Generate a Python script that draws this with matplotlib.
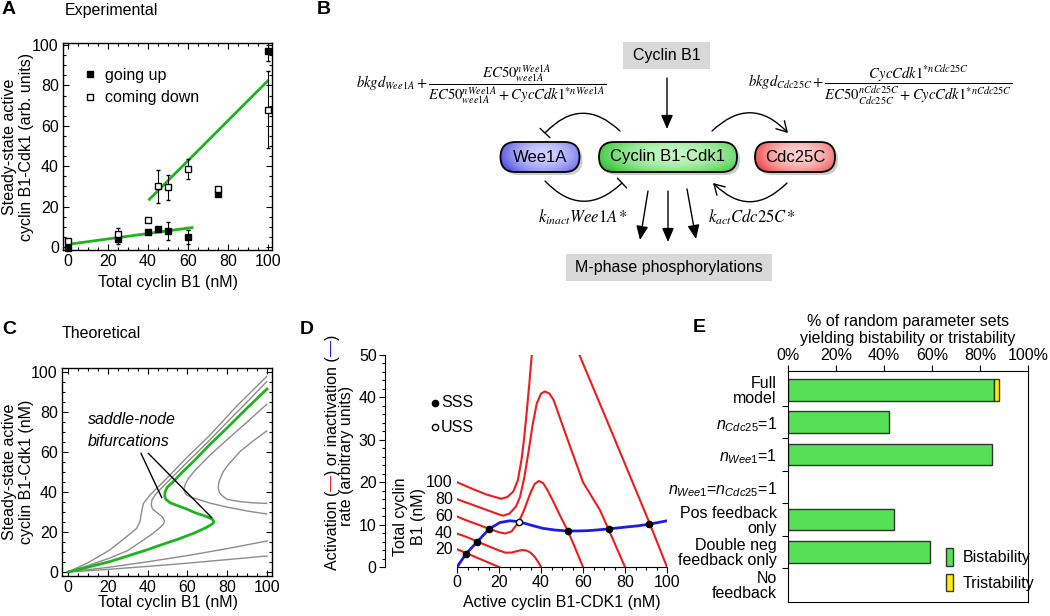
import numpy as np
import matplotlib
matplotlib.use('Agg')
from matplotlib import pyplot as plt
from matplotlib.patches import FancyBboxPatch, FancyArrowPatch, Rectangle
from matplotlib.ticker import MultipleLocator, FuncFormatter

plt.rcParams['font.family'] = 'Liberation Sans'
plt.rcParams['font.size'] = 11
plt.rcParams['mathtext.fontset'] = 'custom'
plt.rcParams['mathtext.it'] = 'Liberation Sans:italic'
plt.rcParams['mathtext.rm'] = 'Liberation Sans'

# ---- Panel A: experimental steady states ----
up_x = [0, 25, 40, 45, 50, 60, 75, 100]
up_y = [-0.5, 4, 7.4, 8.9, 8, 5, 26, 97]
up_err = [0, 2.5, 0, 0, 4.5, 3.5, 0, 4.8]
down_x = [0, 25, 40, 45, 50, 60, 75, 100]
down_y = [3, 6.4, 13.4, 30, 29.5, 38.6, 28.7, 68]
down_err = [0, 3, 0, 8, 6, 5, 0, 19]
fit_lo_x = [0, 62]
fit_lo_y = [1.3, 9.6]
fit_hi_x = [40.7, 99.8]
fit_hi_y = [23.6, 82.2]

# ---- Panel C: theoretical bifurcation curves ----
green_x = [0, 10, 21, 30, 40, 46, 55, 63, 69, 72.2, 73.4, 72.5, 69.7, 64, 59.6, 55, 51.3,
           49.2, 48.6, 48.8, 49.8, 52.9, 57, 63, 71, 79.7, 90, 100]
green_y = [0, 2.4, 5.2, 8, 11.2, 13.3, 16.3, 19.3, 22, 23.8, 25, 26.4, 27.7, 29.6, 31.5, 33.2,
           34.6, 36.3, 38, 40, 42.3, 45.2, 49.5, 55.2, 63.5, 71.8, 82, 91.5]
gray_curves = [
    ([0, 10, 21, 29.5, 34.5, 36.2, 37, 37.9, 41.2, 49.6, 60, 71.4, 85, 99.8],
     [0, 4.6, 11, 17.7, 21.8, 25.2, 30.2, 34.3, 38.5, 46.8, 57.5, 68.5, 83.2, 97.7]),
    ([0, 10, 21, 30, 37.9, 43, 46.2, 48, 48.5, 47.5, 45, 42.5, 41.8, 42.2, 44, 46.5, 52, 60,
      70, 80, 90, 99.8],
     [0, 3.2, 7, 10.7, 16, 19.5, 22.2, 24, 25.5, 27.5, 29.5, 31.5, 33.5, 36, 38.8, 41.5, 47,
      55, 64.7, 75, 85, 95.2]),
    ([99.8, 90, 79.7, 72, 66.3, 62, 59.6, 58.5, 58.3, 59, 60.5, 64, 71.4, 80, 90, 99.8],
     [29, 30.5, 32.5, 34.3, 36, 37.3, 38.5, 40, 41.8, 44, 46.8, 51, 58.5, 66.2, 75, 83.8]),
    ([99.8, 93, 86.4, 80, 78, 76.2, 75.5, 75.8, 77, 78, 80, 86.4, 93, 99.8],
     [34.3, 34.6, 35.2, 36.3, 37.7, 39.5, 41.8, 45, 48, 50.2, 53, 60.2, 65.5, 70.5]),
    ([0, 20, 40, 60, 80, 100], [0, 2.3, 5.1, 8.2, 11.7, 15.5]),
    ([0, 20, 40, 60, 80, 100], [0, 1.3, 2.8, 4.4, 6.2, 8]),
]

# ---- Panel D: rate balance ----
total_labels = ['20', '40', '60', '80', '100']
red_curves = [
    ([0, 5, 10, 15, 20], [4.2, 3.15, 2.1, 1.05, 0]),
    ([0, 5, 9.7, 15, 20, 23, 26, 29, 31, 33, 35, 37, 38.5, 40],
     [7.9, 7.0, 6.0, 4.9, 3.9, 3.4, 3.4, 3.8, 4.0, 3.9, 3.4, 2.4, 1.3, 0]),
    ([0, 5, 10, 15.4, 20, 23, 26, 29.5, 32, 35, 37, 39, 41, 43, 46, 49, 52.7, 56, 60],
     [11.9, 10.9, 10, 9.0, 8.2, 7.9, 8.4, 10.7, 13.5, 17.5, 19.6, 20.3, 19.8, 18.2, 15.3,
      12.2, 8.6, 4.8, 0]),
    ([0, 5, 10, 15, 20, 22, 25, 28, 30, 32, 34, 36, 38, 40, 41.9, 44, 46, 52.2, 60, 68.1,
      74, 80],
     [16, 15.1, 14.2, 13.3, 12.4, 12.1, 12.6, 14.2, 16.5, 21, 27, 33.5, 38.6, 40.9, 41.4,
      40.9, 39.4, 30.7, 20, 13.4, 6.8, 0]),
    ([0, 7, 14, 21, 24, 26.8, 29, 30.8, 32, 33.2, 34.4, 35.6, np.nan, 58.3, 70, 80, 91.9, 100],
     [20, 18.5, 17.1, 16.1, 16.5, 17.8, 20.5, 25.6, 30.5, 36.6, 43, 50, np.nan, 50, 36.2,
      24.3, 10.1, 0]),
]
blue_x = [0, 4.3, 9.7, 15.4, 20.5, 25.2, 29.5, 35, 41.1, 47, 52.7, 58, 63.3, 68, 72.5, 80,
          86, 91.6, 100]
blue_y = [0, 3.1, 6.0, 9.0, 10.5, 10.9, 10.7, 9.9, 9.1, 8.7, 8.5, 8.5, 8.6, 8.8, 9.0, 9.4,
          9.7, 10.1, 10.9]
sss_x = [4.3, 9.7, 15.4, 52.7, 72.5, 91.6]
sss_y = [3.1, 6.0, 9.0, 8.5, 9.0, 10.1]
uss_x = [29.5]
uss_y = [10.7]

# ---- Panel E: random parameter screen ----
models = ['Full\nmodel', r'$n_{Cdc25}$=1', r'$n_{Wee1}$=1', r'$n_{Wee1}$=$n_{Cdc25}$=1',
          'Pos feedback\nonly', 'Double neg\nfeedback only', 'No\nfeedback']
bistable = [86, 42, 85, 0, 44, 59, 0]
tristable = [2, 0, 0, 0, 0, 0, 0]

W, H = 1050, 616
fig = plt.figure(figsize=(W / 100, H / 100), dpi=100)


def px_axes(x0, y0, x1, y1):
    return fig.add_axes([x0 / W, 1 - y1 / H, (x1 - x0) / W, (y1 - y0) / H])


def frame_style(ax):
    ax.xaxis.set_major_locator(MultipleLocator(20))
    ax.yaxis.set_major_locator(MultipleLocator(20))
    ax.xaxis.set_minor_locator(MultipleLocator(5))
    ax.yaxis.set_minor_locator(MultipleLocator(5))
    ax.tick_params(which='both', direction='in', top=True, right=True, width=0.8,
                   labelsize=11.5, pad=3)
    ax.tick_params(which='major', length=4)
    ax.tick_params(which='minor', length=2)
    for s in ax.spines.values():
        s.set_linewidth(1)


GREEN = '#1db41d'

# panel A
axA = px_axes(63, 43, 272, 250)
axA.set_xlim(-2.5, 102)
axA.set_ylim(-1.5, 101)
frame_style(axA)
axA.plot(fit_lo_x, fit_lo_y, color=GREEN, lw=2)
axA.plot(fit_hi_x, fit_hi_y, color=GREEN, lw=2)
axA.errorbar(up_x, up_y, yerr=up_err, fmt='none', ecolor='k', elinewidth=0.8, capsize=1.5)
axA.errorbar(down_x, down_y, yerr=down_err, fmt='none', ecolor='k', elinewidth=0.8, capsize=1.5)
axA.plot(up_x, up_y, 's', ms=5, mfc='k', mec='k', clip_on=False, label='going up')
axA.plot(down_x, down_y, 's', ms=5, mfc='white', mec='k', mew=1, clip_on=False,
         label='coming down')
axA.legend(loc='upper left', bbox_to_anchor=(0.07, 0.91), frameon=False, handlelength=0.8,
           handletextpad=0.5, borderaxespad=0, labelspacing=0.45, fontsize=11.5)

# panel C
axC = px_axes(62, 368, 272, 576)
axC.set_xlim(-3, 102.5)
axC.set_ylim(-2, 102)
frame_style(axC)
for gx, gy in gray_curves:
    axC.plot(gx, gy, color='#8c8c8c', lw=1)
axC.plot(green_x, green_y, color=GREEN, lw=2)
axC.text(10, 76, 'saddle-node', style='italic', fontsize=11.5, va='center')
axC.text(10, 65, 'bifurcations', style='italic', fontsize=11.5, va='center')
axC.plot([36.7, 47.1], [59.3, 37.2], color='k', lw=1)
axC.plot([40.4, 72.2], [59.3, 27.2], color='k', lw=1)

# panel D
axD = px_axes(457, 355, 667, 567)
axD.set_xlim(0, 100)
axD.set_ylim(0, 50)
axD.spines['top'].set_visible(False)
axD.spines['right'].set_visible(False)
axD.spines['left'].set_position(('axes', -72 / 210))
axD.xaxis.set_major_locator(MultipleLocator(20))
axD.xaxis.set_minor_locator(MultipleLocator(5))
axD.yaxis.set_major_locator(MultipleLocator(10))
axD.yaxis.set_minor_locator(MultipleLocator(2))
axD.tick_params(which='both', direction='out', width=0.8, labelsize=11.5, pad=2)
axD.tick_params(which='major', length=4)
axD.tick_params(which='minor', length=2)
for (rx, ry), lab in zip(red_curves, total_labels):
    axD.plot(rx, ry, color='#ee1c1c', lw=1.5)
    axD.text(-2, ry[0], lab, ha='right', va='center', fontsize=11.5, clip_on=False)
axD.plot(blue_x, blue_y, color='#1c1ce6', lw=2)
axD.plot(sss_x, sss_y, 'o', ms=4.5, mfc='k', mec='k', zorder=5)
axD.plot(uss_x, uss_y, 'o', ms=4.5, mfc='white', mec='k', mew=1, zorder=5)
axD.plot([-10.5], [38.7], 'o', ms=4.5, mfc='k', mec='k', clip_on=False)
axD.plot([-10.5], [33.0], 'o', ms=4.5, mfc='white', mec='k', mew=1, clip_on=False)
axD.text(-7.5, 38.7, 'SSS', va='center', fontsize=11.5)
axD.text(-7.5, 33.0, 'USS', va='center', fontsize=11.5)
axD.text(-22.6, 11.8, 'Total cyclin\nB1 (nM)', rotation=90, ha='center', va='center',
         multialignment='center', fontsize=11.5)

# panel E
axE = px_axes(788, 371, 1028, 602)
ypos = np.arange(len(models))
axE.set_xlim(0, 100)
axE.set_ylim(6.55, -0.58)
bist = np.array(bistable, dtype=float)
trist = np.array(tristable, dtype=float)
has_b = bist > 0
has_t = trist > 0
axE.barh(ypos[has_b], bist[has_b], height=0.67, color='#55e055', edgecolor='#333333', lw=1,
         label='Bistability')
axE.barh(ypos[has_t], trist[has_t], left=bist[has_t], height=0.67, color='#ffec00',
         edgecolor='#333333', lw=1, label='Tristability')
axE.xaxis.tick_top()
axE.xaxis.set_major_locator(MultipleLocator(20))
axE.xaxis.set_major_formatter(FuncFormatter(lambda v, p: '%d%%' % v))
axE.set_yticks(ypos)
axE.set_yticklabels(models, linespacing=1.0)
axE.set_yticks(np.arange(0.5, 6, 1), minor=True)
axE.tick_params(axis='y', which='major', length=0, pad=8, labelsize=11.5)
axE.tick_params(axis='y', which='minor', length=4, direction='out', width=0.8)
axE.tick_params(axis='x', which='major', length=4, direction='out', width=0.8, labelsize=11.5,
                pad=2)
axE.legend(loc='lower left', bbox_to_anchor=(0.63, 0.02), frameon=False, handlelength=0.45,
           handleheight=1.3, handletextpad=0.6, borderaxespad=0, labelspacing=0.5,
           fontsize=11.5)

# overlay in pixel coordinates for labels and the network diagram
ov = fig.add_axes([0, 0, 1, 1])
ov.axis('off')

for x, y, s in [(2, 10, 'A'), (317, 9, 'B'), (2, 329, 'C'), (300, 329, 'D'), (693, 328, 'E')]:
    ov.text(x, y, s, fontsize=14, fontweight='bold', va='center', ha='left')
ov.text(65, 11, 'Experimental', fontsize=11.5, va='center')
ov.text(62, 334, 'Theoretical', fontsize=11.5, va='center')

ov.text(18, 146.5, 'Steady-state active\ncyclin B1-Cdk1 (arb. units)', rotation=90,
        ha='center', va='center', multialignment='center', fontsize=11.5)
ov.text(168, 283, 'Total cyclin B1 (nM)', ha='center', va='center', fontsize=11.5)
ov.text(18, 472, 'Steady-state active\ncyclin B1-Cdk1 (nM)', rotation=90,
        ha='center', va='center', multialignment='center', fontsize=11.5)
ov.text(168, 603, 'Total cyclin B1 (nM)', ha='center', va='center', fontsize=11.5)
ov.text(562, 603, 'Active cyclin B1-CDK1 (nM)', ha='center', va='center', fontsize=11.5)
ov.text(908, 330, '% of random parameter sets\nyielding bistability or tristability',
        ha='center', va='center', fontsize=11.5, linespacing=1.1)

# D y-label with coloured dashes, built bottom to top
ov.text(347, 456, 'rate (arbitrary units)', rotation=90, ha='center', va='center',
        fontsize=11.5)
pieces = [('Activation (', 'k'), ('\u2014', '#ee1c1c'), (') or inactivation (', 'k'),
          ('\u2014', '#1c1ce6'), (')', 'k')]
t = ov.text(332, 570, pieces[0][0], rotation=90, ha='center', va='bottom', fontsize=11.5,
            color=pieces[0][1])
for s, c in pieces[1:]:
    t = ov.annotate(s, xycoords=t, xy=(0.5, 1), ha='center', va='bottom', rotation=90,
                    fontsize=11.5, color=c)

# ---- panel B diagram ----
def gray_box(cx, cy, w, h, text):
    ov.add_patch(Rectangle((cx - w / 2, cy - h / 2), w, h, fc='#d8d8d8', ec='none'))
    ov.text(cx, cy, text, ha='center', va='center', fontsize=11.5)


def node(cx, cy, w, h, text, dark, light):
    x0, y0 = cx - w / 2, cy - h / 2
    style = 'round,pad=0,rounding_size=%g' % (h / 2)
    ov.add_patch(FancyBboxPatch((x0 + 3, y0 + 3), w, h, boxstyle=style, fc='0.55', ec='none',
                                alpha=0.45, zorder=2))
    body = FancyBboxPatch((x0, y0), w, h, boxstyle=style, fc=dark, ec='none', zorder=3)
    ov.add_patch(body)
    u, v = np.meshgrid(np.linspace(0, 1, 80), np.linspace(0, 1, 30))
    tt = np.clip(1 - ((u - 0.55) / 0.6) ** 2 - ((v - 0.4) / 0.9) ** 2, 0, 1)[..., None]
    img = np.array(matplotlib.colors.to_rgb(dark)) * (1 - tt) + \
        np.array(matplotlib.colors.to_rgb(light)) * tt
    im = ov.imshow(img, extent=(x0, x0 + w, y0 + h, y0), aspect='auto', zorder=3.5,
                   interpolation='bilinear')
    im.set_clip_path(body)
    ov.add_patch(FancyBboxPatch((x0, y0), w, h, boxstyle=style, fc='none', ec='k', lw=1.3,
                                zorder=4))
    ov.text(cx, cy, text, ha='center', va='center', fontsize=12, zorder=5)


def link(p0, p1, rad, style):
    ov.add_patch(FancyArrowPatch(p0, p1, connectionstyle='arc3,rad=%g' % rad, arrowstyle=style,
                                 mutation_scale=12, lw=1, color='k', shrinkA=0, shrinkB=0))


gray_box(666.5, 55.5, 87, 27, 'Cyclin B1')
gray_box(669, 267.5, 206, 27, 'M-phase phosphorylations')
node(540, 157, 79, 30, 'Wee1A', '#4b4bde', '#cfd0ff')
node(668, 157, 138, 30, 'Cyclin B1-Cdk1', '#35c435', '#c4f7c4')
node(795, 157, 80, 30, 'Cdc25C', '#e84040', '#ffd0d0')

solid = '-|>,head_length=0.7,head_width=0.3'
link((667, 78), (667, 129), 0, solid)
link((648, 191), (640, 240), 0, solid)
link((668, 191), (668, 242), 0, solid)
link((687, 189), (696, 239), 0, solid)
link((620, 131), (545, 133), 0.5, '-[,widthB=0.4,lengthB=0')
link((545, 181), (622, 183), 0.5, '-[,widthB=0.4,lengthB=0')
link((712, 131), (788, 133), -0.5, '->,head_length=0.6,head_width=0.35')
link((787, 183), (713, 183), -0.5, '->,head_length=0.6,head_width=0.35')

ov.text(583, 217, r'$k_{inact}Wee1A\,{*}$', ha='center', va='center', fontsize=12,
        math_fontfamily='stix')
ov.text(752, 217, r'$k_{act}Cdc25C\,{*}$', ha='center', va='center', fontsize=12,
        math_fontfamily='stix')
ov.text(356, 85, r'$bkgd_{Wee1A}+\dfrac{EC50_{wee1A}^{nWee1A}}'
        r'{EC50_{wee1A}^{nWee1A}+CycCdk1^{*nWee1A}}$',
        ha='left', va='center', fontsize=10.5, math_fontfamily='stix')
ov.text(748, 85, r'$bkgd_{Cdc25C}+\dfrac{CycCdk1^{*nCdc25C}}'
        r'{EC50_{Cdc25C}^{nCdc25C}+CycCdk1^{*nCdc25C}}$',
        ha='left', va='center', fontsize=10.5, math_fontfamily='stix')

ov.set_xlim(0, W)
ov.set_ylim(H, 0)

fig.savefig('out.png', dpi=100)
